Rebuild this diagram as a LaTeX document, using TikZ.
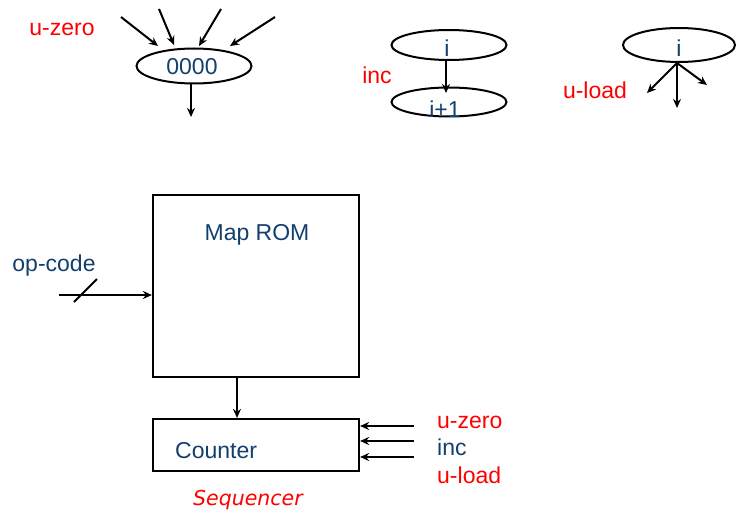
\documentclass[tikz,border=0pt]{standalone}
\usepackage{fontspec}
\setmainfont{Liberation Sans}
\newfontfamily\seqfont{DejaVu Sans}
\usetikzlibrary{arrows.meta,shapes.geometric}
\definecolor{txtblue}{HTML}{123F6E}
\definecolor{txtred}{HTML}{FF0000}
\tikzset{
  x=1pt, y=-1pt,
  lbl/.style={font=\fontsize{23}{27}\selectfont, inner sep=0pt},
  bluetxt/.style={lbl, text=txtblue},
  redtxt/.style={lbl, text=txtred},
  oval/.style={draw, ellipse, line width=2pt, minimum width=115pt, inner sep=0pt},
  blk/.style={draw, line width=2.2pt, inner sep=0pt},
  arr/.style={line width=2pt, -{Stealth[length=9pt,width=8pt]}},
  plain/.style={line width=2pt}
}
\begin{document}
\begin{tikzpicture}
\useasboundingbox (0,0) rectangle (738,516);

% --- u-zero
\node[redtxt] (uz) at (62,29) {u-zero};
\node[oval, minimum height=35pt] (z0) at (194,66) {};
\node[bluetxt] (z0t) at (192,67) {0000};
\coordinate (za1) at (121,17); \coordinate (zb1) at (158,46);
\coordinate (za2) at (159,9);  \coordinate (zb2) at (174,45);
\coordinate (za3) at (221,9);  \coordinate (zb3) at (199,46);
\coordinate (za4) at (275,17); \coordinate (zb4) at (230,46);
\draw[arr] (za1) -- (zb1);
\draw[arr] (za2) -- (zb2);
\draw[arr] (za3) -- (zb3);
\draw[arr] (za4) -- (zb4);
\coordinate (zout) at (191,117);
\draw[arr] (191,84) -- (zout);

% --- inc
\node[oval, minimum height=30pt] (ia) at (449,45) {};
\node[bluetxt] (iat) at (447,48) {i};
\node[oval, minimum height=29pt] (ib) at (449,102) {};
\node[bluetxt] (ibt) at (445,109) {i+1};
\node[redtxt] (incl) at (377,75) {inc};
\coordinate (ia0) at (446,60);
\coordinate (ib0) at (446,93);
\draw[arr] (ia0) -- (ib0);

% --- u-load
\node[oval, minimum width=112pt, minimum height=34pt] (il) at (679,45) {};
\node[bluetxt] (ilt) at (679,48) {i};
\node[redtxt] (ull) at (595,90) {u-load};
\coordinate (lo) at (677,63);
\coordinate (l1) at (647,93);
\coordinate (l2) at (677,108);
\coordinate (l3) at (707,85);
\draw[arr] (lo) -- (l1);
\draw[arr] (lo) -- (l2);
\draw[arr] (lo) -- (l3);

% --- Map ROM
\node[blk, minimum width=206pt, minimum height=182pt] (rom) at (256,286) {};
\node[bluetxt] (romt) at (257,235) {Map ROM};
\node[bluetxt] (opc) at (54,266) {op-code};
\coordinate (opin) at (59,295);
\draw[arr] (opin) -- (rom.west |- opin);
\draw[plain] (74,302) -- (97,279);

% --- Counter
\node[blk, minimum width=206pt, minimum height=52pt] (cnt) at (256,445) {};
\node[bluetxt, anchor=west] (cntt) at (175,451) {Counter};
\draw[arr] (rom.south -| 237,0) -- (cnt.north -| 237,0);

\coordinate (c1) at (414,426);
\coordinate (c2) at (414,441);
\coordinate (c3) at (414,457);
\draw[arr] (c1) -- (cnt.east |- c1);
\draw[arr] (c2) -- (cnt.east |- c2);
\draw[arr] (c3) -- (cnt.east |- c3);
\node[redtxt, anchor=west] (uz2) at (437,422) {u-zero};
\node[bluetxt, anchor=west] (inc2) at (437,447) {inc};
\node[redtxt, anchor=west] (ul2) at (437,475) {u-load};

\node[lbl, text=txtred, font=\seqfont\itshape\fontsize{20.5}{24}\selectfont] (seq) at (248,500) {Sequencer};
\end{tikzpicture}
\end{document}
